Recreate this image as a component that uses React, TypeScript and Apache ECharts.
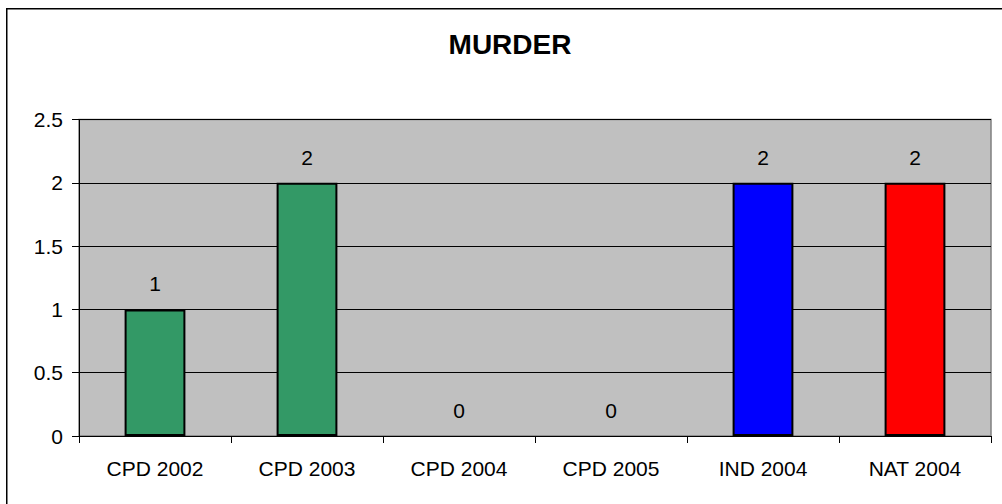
import React, { useEffect, useRef } from "react";
import * as echarts from "echarts";

const categories = ["CPD 2002", "CPD 2003", "CPD 2004", "CPD 2005", "IND 2004", "NAT 2004"];
const values = [1, 2, 0, 0, 2, 2];
const barColors = ["#339966", "#339966", "#339966", "#339966", "#0000FF", "#FF0000"];
const titleText = "MURDER";
const yMin = 0;
const yMax = 2.5;
const yInterval = 0.5;

const FONT = "'Liberation Sans', Arial, sans-serif";

export default function App() {
  const ref = useRef<HTMLDivElement>(null);
  useEffect(() => {
    if (!ref.current) return;
    const chart = echarts.init(ref.current, undefined, { renderer: "svg" });
    chart.setOption({
      animation: false,
      backgroundColor: "#FFFFFF",
      textStyle: { fontFamily: FONT },
      grid: {
        left: 79,
        top: 119.5,
        right: 11,
        bottom: 68,
        show: true,
        backgroundColor: "#C0C0C0",
        borderColor: "#808080",
        borderWidth: 1.5,
        containLabel: false,
      },
      graphic: [
        {
          type: "rect",
          shape: { x: 6.75, y: 8.75, width: 1100, height: 600 },
          style: { fill: "none", stroke: "#000000", lineWidth: 1.5 },
          silent: true,
          z: 100,
        },
        {
          type: "text",
          x: 510,
          y: 44,
          style: {
            text: titleText,
            fontFamily: FONT,
            fontSize: 28,
            fontWeight: "bold",
            fill: "#000000",
            textAlign: "center",
            textVerticalAlign: "middle",
          },
          z: 100,
        },
      ],
      xAxis: {
        type: "category",
        data: categories,
        boundaryGap: true,
        axisLine: { show: true, lineStyle: { color: "#000000", width: 1 } },
        axisTick: { show: true, length: 7, alignWithLabel: false, lineStyle: { color: "#000000", width: 1 } },
        axisLabel: { color: "#000000", fontSize: 21, fontFamily: FONT, margin: 22, interval: 0 },
        splitLine: { show: false },
      },
      yAxis: {
        type: "value",
        min: yMin,
        max: yMax,
        interval: yInterval,
        axisLine: { show: true, lineStyle: { color: "#000000", width: 1 } },
        axisTick: { show: true, length: 7, lineStyle: { color: "#000000", width: 1 } },
        axisLabel: { color: "#000000", fontSize: 21, fontFamily: FONT, margin: 16 },
        splitLine: { show: true, lineStyle: { color: "#000000", width: 1 } },
      },
      series: [
        {
          type: "bar",
          data: values.map((v, i) => ({
            value: v,
            itemStyle: {
              color: barColors[i],
              borderColor: "#000000",
              borderWidth: v === 0 ? 0 : 2,
            },
          })),
          barWidth: "40%",
          label: {
            show: true,
            position: "top",
            distance: 15,
            color: "#000000",
            fontSize: 21,
            fontFamily: FONT,
          },
        },
      ],
    });
    return () => chart.dispose();
  }, []);
  return (
    <div
      ref={ref}
      style={{ position: "fixed", left: 0, top: 0, width: 1002, height: 504 }}
    />
  );
}
